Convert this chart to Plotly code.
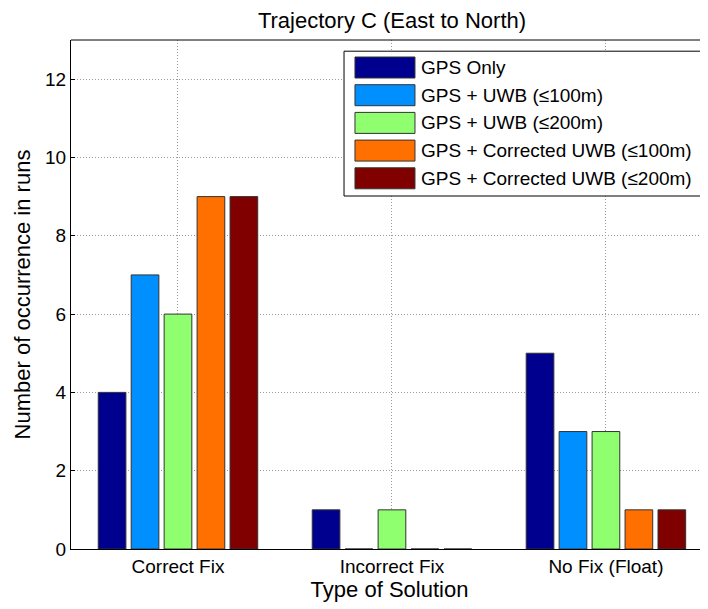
import plotly.graph_objects as go

categories = ["Correct Fix", "Incorrect Fix", "No Fix (Float)"]
series_names = ["GPS Only", "GPS + UWB (≤100m)", "GPS + UWB (≤200m)",
                "GPS + Corrected UWB (≤100m)", "GPS + Corrected UWB (≤200m)"]
gps_only = [4, 1, 5]
gps_uwb_100 = [7, 0, 3]
gps_uwb_200 = [6, 1, 3]
gps_cuwb_100 = [9, 0, 1]
gps_cuwb_200 = [9, 0, 1]
series_values = [gps_only, gps_uwb_100, gps_uwb_200, gps_cuwb_100, gps_cuwb_200]
colors = ["#00008F", "#008FFF", "#8FFF70", "#FF7000", "#800000"]
y_ticks = [0, 2, 4, 6, 8, 10, 12]

FONT = "Liberation Sans, Arial, sans-serif"

fig = go.Figure()
for name, vals, col in zip(series_names, series_values, colors):
    fig.add_trace(go.Bar(
        x=list(range(len(categories))), y=vals, name=name,
        marker=dict(color=col, line=dict(color="#333333", width=1)),
        showlegend=False,
    ))

# Custom legend (wide swatches, MATLAB style)
PH = 509.0
lx0, lx1, ly0, ly1 = 0.4286, 0.9953, 0.6935, 0.978
fig.add_shape(type="rect", xref="paper", yref="paper", x0=lx0, x1=lx1, y0=ly0, y1=ly1,
              line=dict(color="black", width=1), fillcolor="white", layer="above")
row_h = 27.7 / PH
first_c = (549 - 67.5) / PH
sw_h = 21 / PH
for i, (name, col) in enumerate(zip(series_names, colors)):
    yc = first_c - i * row_h
    fig.add_shape(type="rect", xref="paper", yref="paper",
                  x0=0.4458, x1=0.5400, y0=yc - sw_h / 2, y1=yc + sw_h / 2,
                  line=dict(color="#333333", width=1), fillcolor=col, layer="above")
    fig.add_annotation(xref="paper", yref="paper", x=0.547, y=yc, text=name,
                       showarrow=False, xanchor="left", yanchor="middle",
                       font=dict(family=FONT, size=19, color="black"))

# top border
fig.add_shape(type="line", xref="paper", yref="paper", x0=0, x1=1, y0=1, y1=1,
              line=dict(color="black", width=1), layer="above")

fig.update_layout(
    width=700, height=601,
    margin=dict(l=63, r=0, t=32, b=60),
    paper_bgcolor="white", plot_bgcolor="white",
    barmode="group", bargap=0.23, bargroupgap=0.16,
    font=dict(family=FONT, size=19, color="black"),
    title=dict(text="Trajectory C (East to North)", x=(392 - 8) / 700, xanchor="center",
               y=1 - 12.5 / 601, yanchor="middle", font=dict(family=FONT, size=22, color="black")),
    xaxis=dict(
        tickmode="array", tickvals=list(range(len(categories))), ticktext=categories,
        range=[-0.5, 2.477], showline=True, linecolor="black", linewidth=1,
        showgrid=True, gridcolor="#9a9a9a", griddash="1px,2px", gridwidth=1,
        ticks="", tickfont=dict(size=19, family=FONT, color="black"),
        title=dict(text="Type of Solution", font=dict(size=22, family=FONT, color="black"), standoff=4),
        zeroline=False,
    ),
    yaxis=dict(
        range=[0, 13], tickvals=y_ticks, showline=True, linecolor="black", linewidth=1,
        showgrid=True, gridcolor="#9a9a9a", griddash="1px,2px", gridwidth=1,
        ticks="inside", ticklen=4, tickcolor="black",
        tickfont=dict(size=19, family=FONT, color="black"),
        title=dict(text="Number of occurrence in runs", font=dict(size=22, family=FONT, color="black"), standoff=8),
        zeroline=False,
    ),
)

fig.write_html("out.html")
